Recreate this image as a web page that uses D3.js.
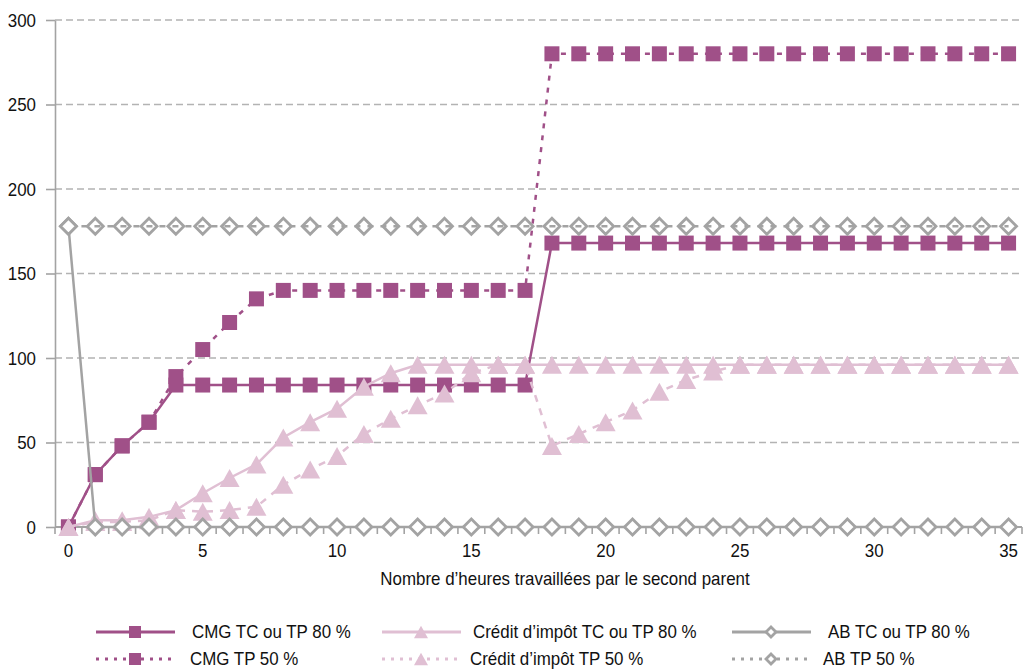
<!DOCTYPE html>
<html lang="fr">
<head>
<meta charset="utf-8">
<script src="https://cdn.jsdelivr.net/npm/d3@7"></script>
<style>
  html, body { margin: 0; padding: 0; background: #fff; }
  svg { display: block; }
  text { font-family: "Liberation Sans", Arial, sans-serif; fill: #111; }
</style>
</head>
<body>
<svg id="chart" width="1024" height="670"></svg>
<script>
// Heures travaillées par le second parent (axe des abscisses)
const hours = [0,1,2,3,4,5,6,7,8,9,10,11,12,13,14,15,16,17,18,19,20,21,22,23,24,25,26,27,28,29,30,31,32,33,34,35];

// Montants (en euros) par série
const cmgTC80 = [0,31,48,62,84,84,84,84,84,84,84,84,84,84,84,84,84,84,168,168,168,168,168,168,168,168,168,168,168,168,168,168,168,168,168,168];
const cmgTP50 = [0,31,48,62,89,105,121,135,140,140,140,140,140,140,140,140,140,140,280,280,280,280,280,280,280,280,280,280,280,280,280,280,280,280,280,280];
const ciTC80  = [0,4,4,6,10,20,29,37,53,62,70,83,91,96,96,96,96,96,96,96,96,96,96,96,96,96,96,96,96,96,96,96,96,96,96,96];
const ciTP50  = [0,3,3,4,10,9,10,12,25,34,42,55,64,72,79,91,96,96,48,55,62,69,80,87,92,96,96,96,96,96,96,96,96,96,96,96];
const abTC80  = [178,0,0,0,0,0,0,0,0,0,0,0,0,0,0,0,0,0,0,0,0,0,0,0,0,0,0,0,0,0,0,0,0,0,0,0];
const abTP50  = [178,178,178,178,178,178,178,178,178,178,178,178,178,178,178,178,178,178,178,178,178,178,178,178,178,178,178,178,178,178,178,178,178,178,178,178];

const yTicks = [0,50,100,150,200,250,300];
const xTickLabels = [0,5,10,15,20,25,30,35];
const seriesNames = ["CMG TC ou TP 80 %","Crédit d’impôt TC ou TP 80 %","AB TC ou TP 80 %",
                     "CMG TP 50 %","Crédit d’impôt TP 50 %","AB TP 50 %"];
const xTitle = "Nombre d’heures travaillées par le second parent";

const PURPLE = "#a05088", PINK = "#e0bfd3", GREY = "#a3a3a3";
const SX = 0.94; // léger resserrement horizontal du texte

const series = [
  { name: seriesNames[0], values: cmgTC80, color: PURPLE, dash: null,  width: 2.5, marker: "square" },
  { name: seriesNames[3], values: cmgTP50, color: PURPLE, dash: "5,7", width: 2.5, marker: "square" },
  { name: seriesNames[1], values: ciTC80,  color: PINK,   dash: null,  width: 2.5, marker: "triangle" },
  { name: seriesNames[4], values: ciTP50,  color: PINK,   dash: "7,7", width: 2.5, marker: "triangle" },
  { name: seriesNames[5], values: abTP50,  color: GREY,   dash: "6,7", width: 2.5, marker: "diamond", fill: "none" },
  { name: seriesNames[2], values: abTC80,  color: GREY,   dash: null,  width: 2.5, marker: "diamond", fill: "#fff" },
];

const svg = d3.select("#chart");
const plotLeft = 55, plotRight = 1022, plotTop = 20, plotBottom = 527;

const x = d3.scaleBand().domain(hours).range([plotLeft, plotRight]).padding(0);
const cx = d => x(d) + x.bandwidth() / 2;
const y = d3.scaleLinear().domain([0, 300]).range([plotBottom, plotTop]);

// Texte placé en (px, py) puis resserré horizontalement
function condensed(sel, px, py) {
  sel.attr("x", 0).attr("y", 0).attr("transform", `translate(${px},${py}) scale(${SX},1)`);
}

// Quadrillage horizontal en tirets
svg.append("g").selectAll("line").data(yTicks.filter(v => v > 0)).join("line")
  .attr("x1", plotLeft).attr("x2", plotRight)
  .attr("y1", d => y(d)).attr("y2", d => y(d))
  .attr("stroke", "#b3b3b3").attr("stroke-width", 1.6).attr("stroke-dasharray", "7,4");

// Axe vertical
const yAxis = svg.append("g").attr("transform", `translate(${plotLeft},0)`)
  .call(d3.axisLeft(y).tickValues(yTicks).tickSize(9).tickPadding(10).tickSizeOuter(0));
yAxis.select(".domain").attr("stroke", GREY).attr("stroke-width", 1.6);
yAxis.selectAll(".tick line").attr("stroke", GREY).attr("stroke-width", 1.6);
yAxis.selectAll("text").attr("font-size", 18).attr("fill", "#111").attr("dy", "0.35em")
  .each(function () { condensed(d3.select(this), -19, 0); });

// Axe horizontal : graduations aux limites de chaque catégorie
const edges = hours.map(h => x(h)).concat([plotRight]);
svg.append("g").selectAll("line").data(edges).join("line")
  .attr("x1", d => d).attr("x2", d => d)
  .attr("y1", plotBottom).attr("y2", plotBottom + 7)
  .attr("stroke", GREY).attr("stroke-width", 1.6);
svg.append("line").attr("x1", plotLeft).attr("x2", plotRight)
  .attr("y1", plotBottom).attr("y2", plotBottom).attr("stroke", GREY).attr("stroke-width", 2);

const xAxis = svg.append("g").attr("transform", `translate(0,${plotBottom})`)
  .call(d3.axisBottom(x).tickValues(xTickLabels).tickSize(0).tickPadding(14));
xAxis.select(".domain").remove();
xAxis.selectAll("text").attr("font-size", 18).attr("fill", "#111").attr("dy", "0.35em")
  .each(function () { condensed(d3.select(this), 0, 24); });

svg.append("text").attr("text-anchor", "middle").attr("font-size", 18).attr("dy", "0.35em")
  .text(xTitle).call(condensed, 565, 579);

// Symboles
const symbolPath = (type, size) => {
  if (type === "square") return d3.symbol(d3.symbolSquare, size * size)();
  if (type === "triangle") {
    const w = size, h = size * 0.9;
    return `M0,${-h/2}L${w/2},${h/2}L${-w/2},${h/2}Z`;
  }
  const r = size / 2;
  return `M0,${-r}L${r},0L0,${r}L${-r},0Z`;
};

function drawMarker(g, s, px, py, size) {
  const p = g.append("path").attr("d", symbolPath(s.marker, size))
    .attr("transform", `translate(${px},${py})`);
  if (s.marker === "diamond") {
    p.attr("fill", s.fill).attr("stroke", s.color).attr("stroke-width", 2.8);
  } else {
    p.attr("fill", s.color);
  }
}

const line = d3.line().x((d, i) => cx(hours[i])).y(d => y(d));

series.forEach(s => {
  const g = svg.append("g");
  g.append("path").datum(s.values).attr("d", line)
    .attr("fill", "none").attr("stroke", s.color).attr("stroke-width", s.width)
    .attr("stroke-dasharray", s.dash);
  const size = s.marker === "square" ? 15 : s.marker === "triangle" ? 20 : 16;
  s.values.forEach((v, i) => drawMarker(g, s, cx(hours[i]), y(v), size));
});

// Légende
const legendCols = [96, 382, 732];
const legendRows = [632, 659];
const legendTextX = [[192, 473, 828], [190, 470, 823]];
const legendOrder = [
  [series[0], series[2], series[5]],
  [series[1], series[3], series[4]],
];
legendOrder.forEach((row, ri) => {
  row.forEach((s, ci) => {
    const g = svg.append("g");
    const x0 = legendCols[ci], ly = legendRows[ri];
    const dash = s.dash ? "3,6" : null;
    g.append("line").attr("x1", x0).attr("x2", x0 + 79).attr("y1", ly).attr("y2", ly)
      .attr("stroke", s.color).attr("stroke-width", 3).attr("stroke-dasharray", dash);
    const size = s.marker === "square" ? 12 : s.marker === "triangle" ? 14 : 10;
    drawMarker(g, s.marker === "diamond" ? Object.assign({}, s, { fill: "#fff" }) : s, x0 + 39, ly, size);
    g.append("text").attr("font-size", 18).attr("dy", "0.35em").text(s.name)
      .call(condensed, legendTextX[ri][ci], ly);
  });
});
</script>
</body>
</html>
